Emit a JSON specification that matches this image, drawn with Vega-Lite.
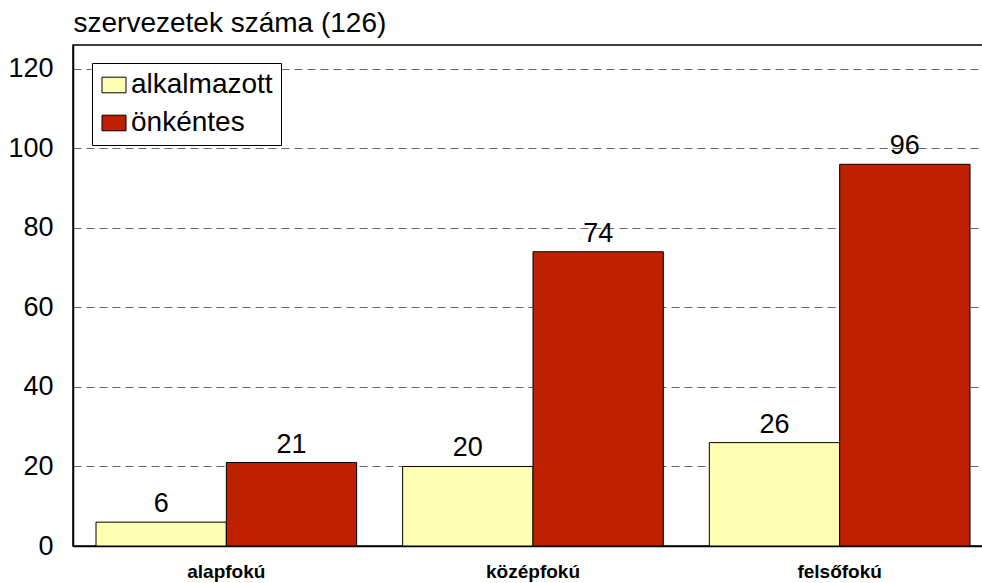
{
  "$schema": "https://vega.github.io/schema/vega-lite/v6.json",
  "width": 920,
  "height": 501,
  "autosize": {"type": "none"},
  "padding": {"left": 73, "top": 45, "right": 0, "bottom": 37},
  "background": "white",
  "config": {
    "font": "Liberation Sans",
    "view": {"stroke": "black", "strokeWidth": 1.5}
  },
  "data": {
    "values": [
      {"szint": "alapfokú", "tipus": "alkalmazott", "ertek": 6},
      {"szint": "alapfokú", "tipus": "önkéntes", "ertek": 21},
      {"szint": "középfokú", "tipus": "alkalmazott", "ertek": 20},
      {"szint": "középfokú", "tipus": "önkéntes", "ertek": 74},
      {"szint": "felsőfokú", "tipus": "alkalmazott", "ertek": 26},
      {"szint": "felsőfokú", "tipus": "önkéntes", "ertek": 96}
    ]
  },
  "encoding": {
    "x": {
      "field": "szint", "type": "nominal", "sort": null,
      "scale": {"paddingInner": 0.15, "paddingOuter": 0.075},
      "axis": {"title": null, "labelAngle": 0, "ticks": false, "domainColor": "black", "domainWidth": 1.5,
               "labelFont": "Liberation Sans", "labelFontSize": 19, "labelFontWeight": "bold", "labelColor": "black", "labelPadding": 16}
    },
    "xOffset": {"field": "tipus", "type": "nominal", "scale": {"paddingInner": 0, "paddingOuter": 0}},
    "y": {
      "field": "ertek", "type": "quantitative",
      "scale": {"domain": [0, 126], "nice": false},
      "axis": {
        "title": "szervezetek száma (126)", "titleAngle": 0, "titleAlign": "left", "titleBaseline": "alphabetic",
        "titleX": 0, "titleY": -14, "titleFontSize": 28, "titleFontWeight": "normal", "titleColor": "black", "titleFont": "Liberation Sans",
        "values": [0, 20, 40, 60, 80, 100, 120],
        "ticks": false, "labelPadding": 20, "labelFontSize": 27, "labelColor": "black", "labelFont": "Liberation Sans",
        "domainColor": "black", "domainWidth": 1.5,
        "grid": true, "gridColor": "#666666", "gridDash": [8, 5], "gridWidth": 1
      }
    }
  },
  "layer": [
    {
      "mark": {"type": "bar", "stroke": "black", "strokeWidth": 1},
      "encoding": {
        "color": {
          "field": "tipus", "type": "nominal",
          "scale": {"domain": ["alkalmazott", "önkéntes"], "range": ["#FFFFB3", "#BF2000"]},
          "legend": {
            "title": null, "orient": "none", "legendX": 19, "legendY": 18,
            "fillColor": "white", "strokeColor": "black", "padding": 8,
            "symbolType": "M-1,-0.65H1V0.65H-1Z", "symbolSize": 576, "symbolStrokeColor": "black", "symbolStrokeWidth": 1,
            "labelFontSize": 28, "labelFont": "Liberation Sans", "labelColor": "black", "labelOffset": 3,
            "rowPadding": 10
          }
        }
      }
    },
    {
      "mark": {"type": "text", "baseline": "alphabetic", "dy": -10, "fontSize": 27, "font": "Liberation Sans", "color": "black"},
      "encoding": {"text": {"field": "ertek", "type": "quantitative"}}
    }
  ]
}
